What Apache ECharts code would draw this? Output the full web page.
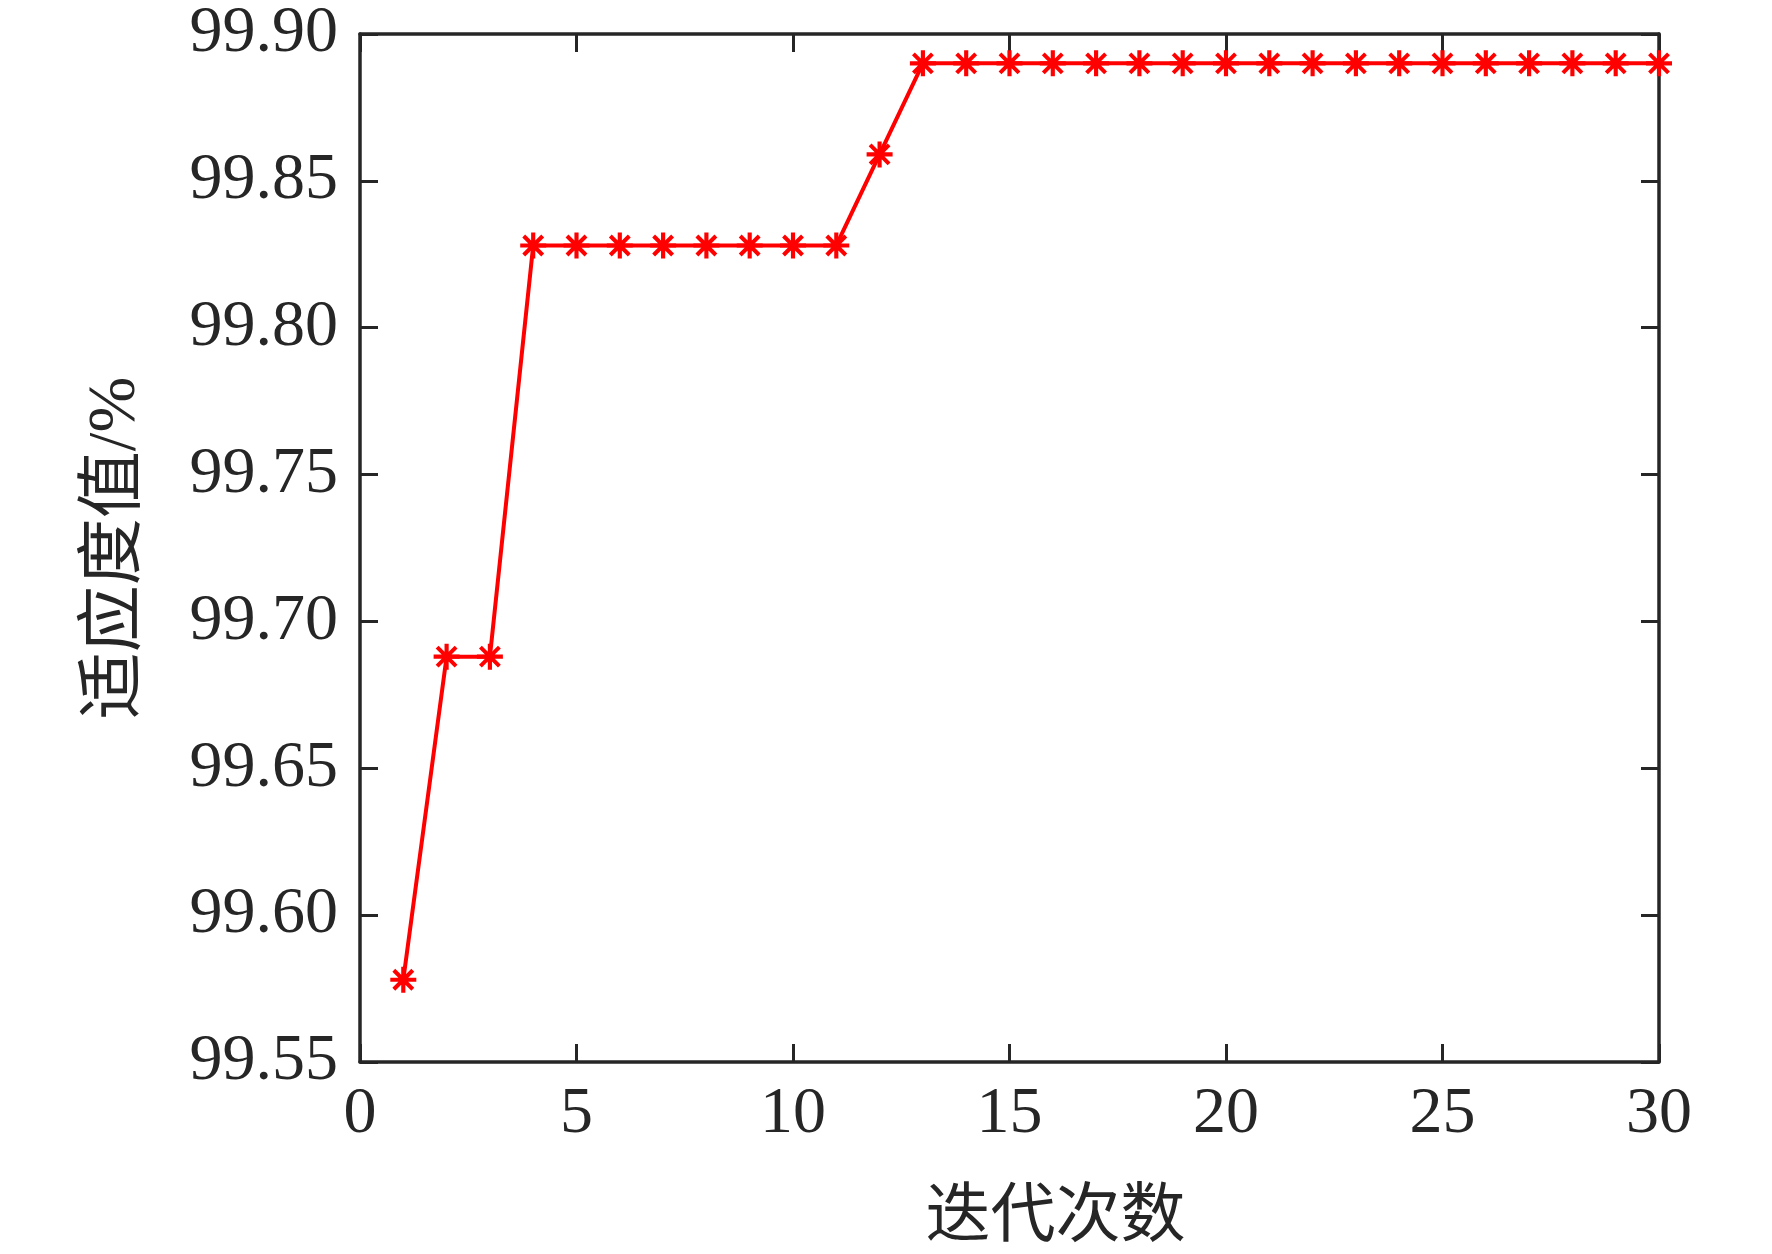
<!DOCTYPE html>
<html>
<head>
<meta charset="utf-8">
<script src="https://cdn.jsdelivr.net/npm/echarts@6/dist/echarts.min.js"></script>
<style>
html, body { margin: 0; padding: 0; background: #fff; }
#main { width: 1772px; height: 1254px; }
</style>
</head>
<body>
<div id="main"></div>
<script>
// 迭代次数 与 适应度值
const iterations = [1, 2, 3, 4, 5, 6, 7, 8, 9, 10, 11, 12, 13, 14, 15, 16, 17, 18, 19, 20, 21, 22, 23, 24, 25, 26, 27, 28, 29, 30];
const fitness = [99.578, 99.688, 99.688, 99.828, 99.828, 99.828, 99.828, 99.828, 99.828, 99.828, 99.828, 99.859, 99.890, 99.890, 99.890, 99.890, 99.890, 99.890, 99.890, 99.890, 99.890, 99.890, 99.890, 99.890, 99.890, 99.890, 99.890, 99.890, 99.890, 99.890];
const xRange = [0, 30, 5];
const yRange = [99.55, 99.90, 0.05];

const axisColor = '#262626';
const fontFamily = '"Liberation Serif", "Times New Roman", "Noto Sans CJK SC", serif';
// 星号标记
const starPath = 'path://M42 0 L58 0 L58 100 L42 100 Z M0 42 L100 42 L100 58 L0 58 Z M8 19 L19 8 L92 81 L81 92 Z M81 8 L92 19 L19 92 L8 81 Z';

const chart = echarts.init(document.getElementById('main'));

function baseAxis(show) {
	return {
		axisLine: { show: true, onZero: false, lineStyle: { color: axisColor, width: 3.5 } },
		axisTick: { show: true, inside: true, length: 18, lineStyle: { color: axisColor, width: 3 } },
		axisLabel: {
			show: show,
			color: axisColor,
			fontSize: 66,
			fontFamily: fontFamily
		},
		splitLine: { show: false }
	};
}

const option = {
	backgroundColor: '#fff',
	animation: false,
	grid: { left: 360, right: 113, top: 34, bottom: 192, outerBoundsMode: 'none', containLabel: false },
	xAxis: [
		Object.assign(baseAxis(true), {
			type: 'value', min: xRange[0], max: xRange[1], interval: xRange[2],
			position: 'bottom',
			name: '迭代次数',
			nameLocation: 'middle',
			nameGap: 124,
			nameTextStyle: { color: axisColor, fontSize: 65, fontFamily: fontFamily, padding: [0, 0, 0, 92] }
		}),
		Object.assign(baseAxis(false), {
			type: 'value', min: xRange[0], max: xRange[1], interval: xRange[2],
			position: 'top'
		})
	],
	yAxis: [
		Object.assign(baseAxis(true), {
			type: 'value', min: yRange[0], max: yRange[1], interval: yRange[2],
			position: 'left',
			name: '适应度值/%',
			nameLocation: 'middle',
			nameGap: 210,
			nameTextStyle: { color: axisColor, fontSize: 67, fontFamily: fontFamily }
		}),
		Object.assign(baseAxis(false), {
			type: 'value', min: yRange[0], max: yRange[1], interval: yRange[2],
			position: 'right'
		})
	],
	series: [
		{
			type: 'line',
			data: iterations.map((x, i) => [x, fitness[i]]),
			symbol: starPath,
			symbolSize: 26,
			showAllSymbol: true,
			lineStyle: { color: '#ff0000', width: 4 },
			itemStyle: { color: '#ff0000' }
		}
	]
};
option.xAxis[0].axisLabel.margin = 20;
option.yAxis[0].axisLabel.margin = 22;
option.yAxis[0].axisLabel.formatter = v => v.toFixed(2);

chart.setOption(option);
</script>
</body>
</html>
